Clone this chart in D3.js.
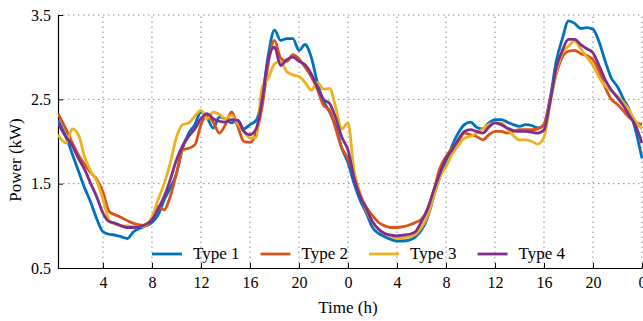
<!DOCTYPE html>
<html>
<head>
<meta charset="utf-8">
<script src="https://cdn.jsdelivr.net/npm/d3@7"></script>
<style>
  body { margin: 0; background: #fff; }
  svg text { font-family: "Times New Roman", "Liberation Serif", serif !important; fill: #000; }
</style>
</head>
<body>
<div id="chart"></div>
<script>
// time axis in hours (two days), one sample every half hour
const hours = [
  0.33, 1, 1.5, 2, 2.5, 3, 3.5, 4,
  4.5, 5, 5.5, 6, 6.5, 7, 7.5, 8,
  8.5, 9, 9.5, 10, 10.5, 11, 11.5, 12,
  12.5, 13, 13.5, 14, 14.5, 15, 15.5, 16,
  16.5, 17, 17.5, 18, 18.5, 19, 19.5, 20,
  20.5, 21, 21.5, 22, 22.5, 23, 23.5, 24,
  24.5, 25, 25.5, 26, 26.5, 27, 27.5, 28,
  28.5, 29, 29.5, 30, 30.5, 31, 31.5, 32,
  32.5, 33, 33.5, 34, 34.5, 35, 35.5, 36,
  36.5, 37, 37.5, 38, 38.5, 39, 39.5, 40,
  40.5, 41, 41.5, 42, 42.5, 43, 43.5, 44,
  44.5, 45, 45.5, 46, 46.5, 47, 47.5, 48
];

const seriesNames = ["Type 1", "Type 2", "Type 3", "Type 4"];
const seriesColors = ["#0072BD", "#D95319", "#EDB120", "#7E2F8E"];

const type1 = [
  2.25, 2.05, 1.85, 1.65, 1.45, 1.28, 1.08, 0.93,
  0.90, 0.89, 0.87, 0.85, 0.93, 0.97, 1.00, 1.04,
  1.13, 1.31, 1.45, 1.62, 1.92, 2.10, 2.20, 2.35,
  2.28, 2.16, 2.29, 2.27, 2.22, 2.25, 2.15, 2.20,
  2.25, 2.52, 3.03, 3.32, 3.20, 3.22, 3.22, 3.08,
  3.15, 3.00, 2.70, 2.48, 2.35, 2.18, 1.92, 1.75,
  1.50, 1.30, 1.15, 0.98, 0.91, 0.87, 0.84, 0.82,
  0.82, 0.83, 0.87, 0.95, 1.10, 1.35, 1.58, 1.74,
  1.95, 2.10, 2.20, 2.23, 2.17, 2.15, 2.22, 2.26,
  2.26, 2.23, 2.20, 2.18, 2.20, 2.19, 2.16, 2.20,
  2.51, 2.95, 3.22, 3.43, 3.40, 3.34, 3.35, 3.33,
  3.18, 2.95, 2.75, 2.65, 2.50, 2.36, 2.12, 1.80
];
const type2 = [
  2.33, 2.14, 1.98, 1.84, 1.73, 1.63, 1.55, 1.40,
  1.17, 1.13, 1.10, 1.06, 1.03, 1.01, 1.00, 1.10,
  1.23, 1.19, 1.35, 1.62, 1.90, 1.92, 1.96, 2.20,
  2.31, 2.23, 2.10, 2.20, 2.35, 2.18, 2.00, 1.99,
  2.10, 2.42, 2.93, 3.20, 2.99, 2.95, 3.03, 2.98,
  2.88, 2.77, 2.62, 2.43, 2.37, 2.15, 1.92, 1.80,
  1.60, 1.37, 1.22, 1.12, 1.04, 1.00, 0.98, 0.98,
  0.99, 1.01, 1.04, 1.08, 1.20, 1.42, 1.68, 1.82,
  1.92, 2.00, 2.10, 2.08, 2.06, 2.02, 2.08, 2.12,
  2.12, 2.10, 2.12, 2.14, 2.14, 2.14, 2.15, 2.20,
  2.50, 2.80, 3.00, 3.07, 3.08, 3.04, 3.02, 2.97,
  2.83, 2.64, 2.50, 2.44, 2.36, 2.28, 2.23, 2.20
];
const type3 = [
  2.08, 1.98, 2.15, 2.08, 1.82, 1.65, 1.53, 1.32,
  1.07, 1.02, 1.00, 1.00, 0.99, 0.99, 1.01, 1.10,
  1.31, 1.50, 1.75, 2.05, 2.20, 2.22, 2.30, 2.37,
  2.27, 2.35, 2.32, 2.27, 2.31, 2.21, 2.12, 2.04,
  2.05, 2.65, 2.75, 2.92, 2.95, 2.83, 2.79, 2.77,
  2.70, 2.61, 2.70, 2.62, 2.63, 2.40, 2.15, 2.22,
  1.65, 1.38, 1.18, 1.05, 0.96, 0.91, 0.88, 0.85,
  0.86, 0.87, 0.90, 0.98, 1.12, 1.35, 1.58, 1.70,
  1.85, 1.95, 2.04, 2.06, 2.10, 2.15, 2.20, 2.22,
  2.22, 2.15, 2.07, 2.02, 2.02, 2.00, 1.97, 2.05,
  2.45, 2.82, 3.05, 3.13, 3.19, 3.10, 3.00, 2.90,
  2.76, 2.66, 2.60, 2.54, 2.46, 2.36, 2.23, 2.15
];
const type4 = [
  2.22, 2.05, 1.95, 1.80, 1.67, 1.50, 1.34, 1.15,
  1.05, 1.03, 1.00, 0.98, 0.98, 0.99, 1.02, 1.07,
  1.20, 1.35, 1.55, 1.78, 1.95, 2.06, 2.15, 2.27,
  2.33, 2.27, 2.24, 2.23, 2.26, 2.25, 2.12, 2.08,
  2.15, 2.50, 2.98, 3.12, 2.90, 2.97, 3.00, 2.95,
  2.91, 2.80, 2.64, 2.50, 2.45, 2.28, 2.05, 1.90,
  1.57, 1.35, 1.20, 1.05, 0.96, 0.91, 0.89, 0.88,
  0.89, 0.90, 0.93, 1.05, 1.20, 1.42, 1.62, 1.80,
  1.90, 2.02, 2.12, 2.14, 2.12, 2.10, 2.17, 2.22,
  2.20, 2.16, 2.13, 2.12, 2.12, 2.11, 2.10, 2.14,
  2.47, 2.87, 3.08, 3.21, 3.21, 3.15, 3.10, 3.05,
  2.90, 2.73, 2.61, 2.52, 2.42, 2.30, 2.18, 1.98
];

const xTicks = [4, 8, 12, 16, 20, 24, 28, 32, 36, 40, 44, 48];
const yTicks = [0.5, 1.5, 2.5, 3.5];

const width = 643, height = 321;
const margin = { top: 15, right: 1, bottom: 53, left: 58 };

const svg = d3.select("#chart")
  .append("svg")
  .attr("width", width)
  .attr("height", height);

const x = d3.scaleLinear()
  .domain([0.33, 48])
  .range([margin.left, width - margin.right]);

const y = d3.scaleLinear()
  .domain([0.5, 3.5])
  .range([height - margin.bottom, margin.top]);

// dotted grid
svg.append("g")
  .selectAll("line")
  .data(xTicks)
  .join("line")
  .attr("x1", d => x(d)).attr("x2", d => x(d))
  .attr("y1", y(0.5)).attr("y2", y(3.5))
  .attr("stroke", "#8a8a8a")
  .attr("stroke-width", 1)
  .attr("stroke-dasharray", "1.5,3.5");

svg.append("g")
  .selectAll("line")
  .data(yTicks.slice(1))
  .join("line")
  .attr("x1", x(0.33)).attr("x2", x(48))
  .attr("y1", d => y(d)).attr("y2", d => y(d))
  .attr("stroke", "#8a8a8a")
  .attr("stroke-width", 1)
  .attr("stroke-dasharray", "1.5,3.5");

// axes, ticks pointing inwards
const xAxis = svg.append("g")
  .attr("transform", `translate(0,${y(0.5)})`)
  .call(d3.axisBottom(x).tickValues(xTicks).tickSizeInner(-5).tickSizeOuter(0)
    .tickPadding(9).tickFormat(d => d % 24));

const yAxis = svg.append("g")
  .attr("transform", `translate(${x(0.33)},0)`)
  .call(d3.axisLeft(y).tickValues(yTicks).tickSizeInner(-5).tickSizeOuter(0)
    .tickPadding(7).tickFormat(d3.format(".1f")));

[xAxis, yAxis].forEach(ax => {
  ax.attr("font-family", null);
  ax.select(".domain").attr("stroke", "#000").attr("stroke-width", 1.2);
  ax.selectAll(".tick line").attr("stroke", "#000");
  ax.selectAll("text")
    .attr("font-size", 16)
    .attr("fill", "#000");
});

// lines
svg.append("clipPath").attr("id", "clip")
  .append("rect")
  .attr("x", x(0.33)).attr("y", 0)
  .attr("width", x(48) - x(0.33) + 2).attr("height", y(0.5));

const line = d3.line()
  .x((d, i) => x(hours[i]))
  .y(d => y(d))
  .curve(d3.curveMonotoneX);

const allSeries = [type1, type2, type3, type4];

svg.append("g")
  .attr("clip-path", "url(#clip)")
  .selectAll("path")
  .data(allSeries)
  .join("path")
  .attr("d", line)
  .attr("fill", "none")
  .attr("stroke", (d, i) => seriesColors[i])
  .attr("stroke-width", 2.8)
  .attr("stroke-linejoin", "round");

// legend along the bottom, no box
const legend = svg.append("g")
  .attr("transform", "translate(152,254)");

const item = legend.selectAll("g")
  .data(seriesNames)
  .join("g")
  .attr("transform", (d, i) => `translate(${i * 108.5},0)`);

item.append("line")
  .attr("x1", 0).attr("x2", 30)
  .attr("stroke", (d, i) => seriesColors[i])
  .attr("stroke-width", 2.8);

item.append("text")
  .attr("x", 41)
  .attr("y", 5)
  .attr("font-size", 17)
  .text(d => d);

// axis titles
svg.append("text")
  .attr("x", x(24))
  .attr("y", 313)
  .attr("text-anchor", "middle")
  .attr("font-size", 17)
  .text("Time (h)");

svg.append("text")
  .attr("transform", "translate(21,160) rotate(-90)")
  .attr("text-anchor", "middle")
  .attr("font-size", 17)
  .text("Power (kW)");
</script>
</body>
</html>
